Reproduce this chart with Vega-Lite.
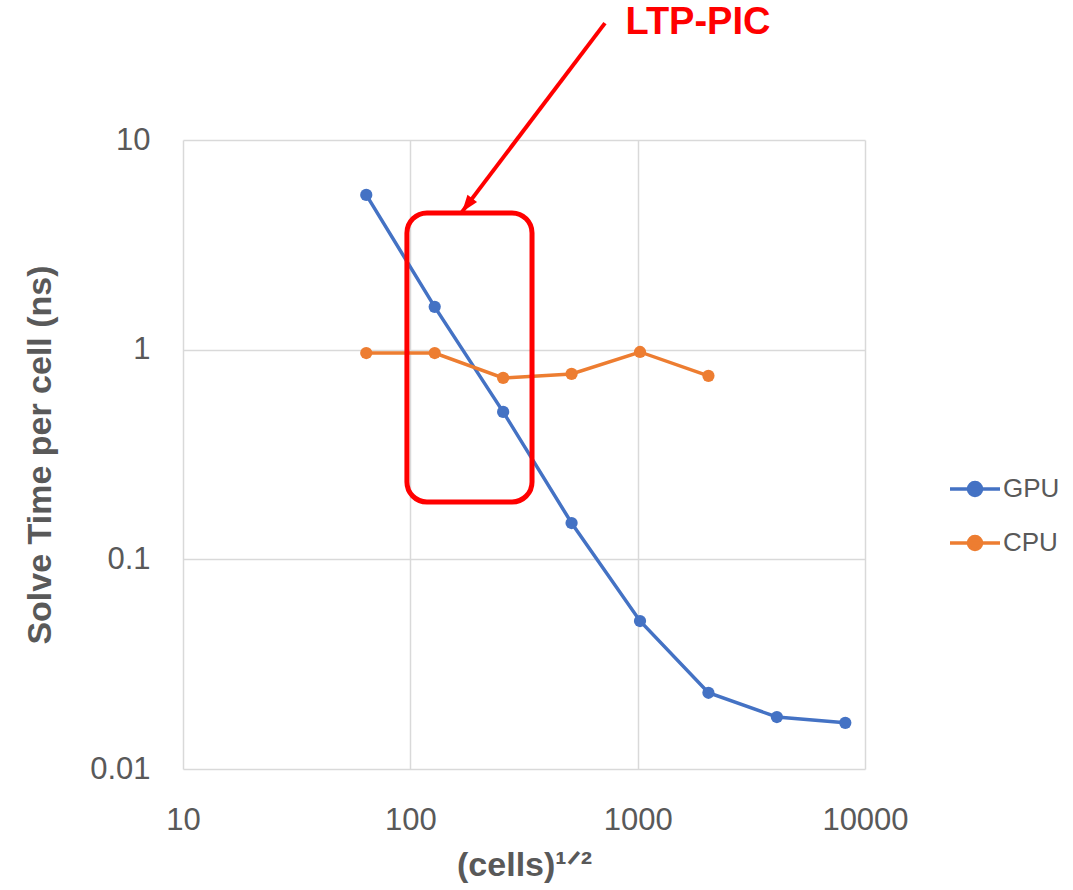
{
  "$schema": "https://vega.github.io/schema/vega-lite/v6.json",
  "width": 682,
  "height": 629,
  "autosize": {"type": "none"},
  "padding": {"left": 183, "top": 140, "right": 208, "bottom": 121},
  "background": "white",
  "config": {
    "view": {"stroke": null},
    "font": "Liberation Sans",
    "axis": {
      "grid": true,
      "gridColor": "#d9d9d9",
      "gridWidth": 1.5,
      "domain": false,
      "ticks": false,
      "labelFlush": false,
      "labelColor": "#595959",
      "labelFont": "Liberation Sans",
      "labelFontSize": 31,
      "titleColor": "#595959",
      "titleFont": "Liberation Sans",
      "titleFontSize": 34,
      "titleFontWeight": "bold"
    }
  },
  "layer": [
    {
      "data": {
        "values": [
          {"n": 64, "t": 5.47, "s": "GPU"},
          {"n": 128, "t": 1.6, "s": "GPU"},
          {"n": 256, "t": 0.505, "s": "GPU"},
          {"n": 512, "t": 0.149, "s": "GPU"},
          {"n": 1024, "t": 0.0508, "s": "GPU"},
          {"n": 2048, "t": 0.0231, "s": "GPU"},
          {"n": 4096, "t": 0.0177, "s": "GPU"},
          {"n": 8192, "t": 0.0166, "s": "GPU"},
          {"n": 64, "t": 0.964, "s": "CPU"},
          {"n": 128, "t": 0.964, "s": "CPU"},
          {"n": 256, "t": 0.733, "s": "CPU"},
          {"n": 512, "t": 0.766, "s": "CPU"},
          {"n": 1024, "t": 0.975, "s": "CPU"},
          {"n": 2048, "t": 0.75, "s": "CPU"}
        ]
      },
      "mark": {"type": "line", "strokeWidth": 3.5, "point": {"filled": true, "size": 150}},
      "encoding": {
        "x": {
          "field": "n", "type": "quantitative",
          "scale": {"type": "log", "domain": [10, 10000], "nice": false},
          "axis": {"values": [10, 100, 1000, 10000], "format": "d", "labelPadding": 36, "titlePadding": 13, "title": "(cells)¹ᐟ²"}
        },
        "y": {
          "field": "t", "type": "quantitative",
          "scale": {"type": "log", "domain": [0.01, 10], "nice": false},
          "axis": {"values": [0.01, 0.1, 1, 10], "format": "~g", "labelPadding": 33, "titlePadding": 32, "title": "Solve Time per cell (ns)"}
        },
        "color": {
          "field": "s", "type": "nominal",
          "scale": {"domain": ["GPU", "CPU"], "range": ["#4472C4", "#ED7D31"]},
          "legend": {
            "title": null,
            "orient": "none",
            "legendX": 765,
            "legendY": 322,
            "symbolType": "M-1,0H1M0.26,0A0.26,0.26,0,1,1,-0.26,0A0.26,0.26,0,1,1,0.26,0Z",
            "symbolSize": 2500,
            "symbolStrokeWidth": 3.5,
            "labelFontSize": 26,
            "labelColor": "#595959",
            "labelFont": "Liberation Sans",
            "labelOffset": 1,
            "rowPadding": 13,
            "encode": {
              "symbols": {
                "update": {
                  "fill": {"scale": "color", "field": "value"},
                  "stroke": {"scale": "color", "field": "value"},
                  "strokeWidth": {"value": 3.5}
                }
              }
            }
          }
        }
      }
    },
    {
      "data": {"values": [{"x1": 96.6, "x2": 343, "y1": 4.49, "y2": 0.1877}]},
      "mark": {"type": "rect", "fill": null, "fillOpacity": 0, "stroke": "#FF0000", "strokeWidth": 5, "cornerRadius": 20},
      "encoding": {
        "x": {"field": "x1", "type": "quantitative", "axis": {"title": "(cells)¹ᐟ²"}},
        "x2": {"field": "x2"},
        "y": {"field": "y1", "type": "quantitative", "axis": {"title": "Solve Time per cell (ns)"}},
        "y2": {"field": "y2"}
      }
    },
    {
      "data": {"values": [{"ax": 718, "ay": 36.1, "bx": 168.8, "by": 4.54}]},
      "mark": {"type": "rule", "stroke": "#FF0000", "strokeWidth": 4},
      "encoding": {
        "x": {"field": "ax", "type": "quantitative", "axis": {"title": "(cells)¹ᐟ²"}},
        "y": {"field": "ay", "type": "quantitative", "axis": {"title": "Solve Time per cell (ns)"}},
        "x2": {"field": "bx"},
        "y2": {"field": "by"}
      }
    },
    {
      "data": {"values": [{"bx": 168.8, "by": 4.54}]},
      "mark": {"type": "point", "filled": true, "color": "#FF0000", "opacity": 1, "size": 400, "angle": 217, "shape": "M0,0L0.6,1.7L-0.6,1.7Z"},
      "encoding": {
        "x": {"field": "bx", "type": "quantitative", "axis": {"title": "(cells)¹ᐟ²"}},
        "y": {"field": "by", "type": "quantitative", "axis": {"title": "Solve Time per cell (ns)"}}
      }
    },
    {
      "data": {"values": [{"lx": 1842, "ly": 36.1, "label": "LTP-PIC"}]},
      "mark": {"type": "text", "color": "#FF0000", "font": "Liberation Sans", "fontSize": 38, "fontWeight": "bold", "align": "center", "baseline": "middle"},
      "encoding": {
        "x": {"field": "lx", "type": "quantitative", "axis": {"title": "(cells)¹ᐟ²"}},
        "y": {"field": "ly", "type": "quantitative", "axis": {"title": "Solve Time per cell (ns)"}},
        "text": {"field": "label"}
      }
    }
  ]
}
